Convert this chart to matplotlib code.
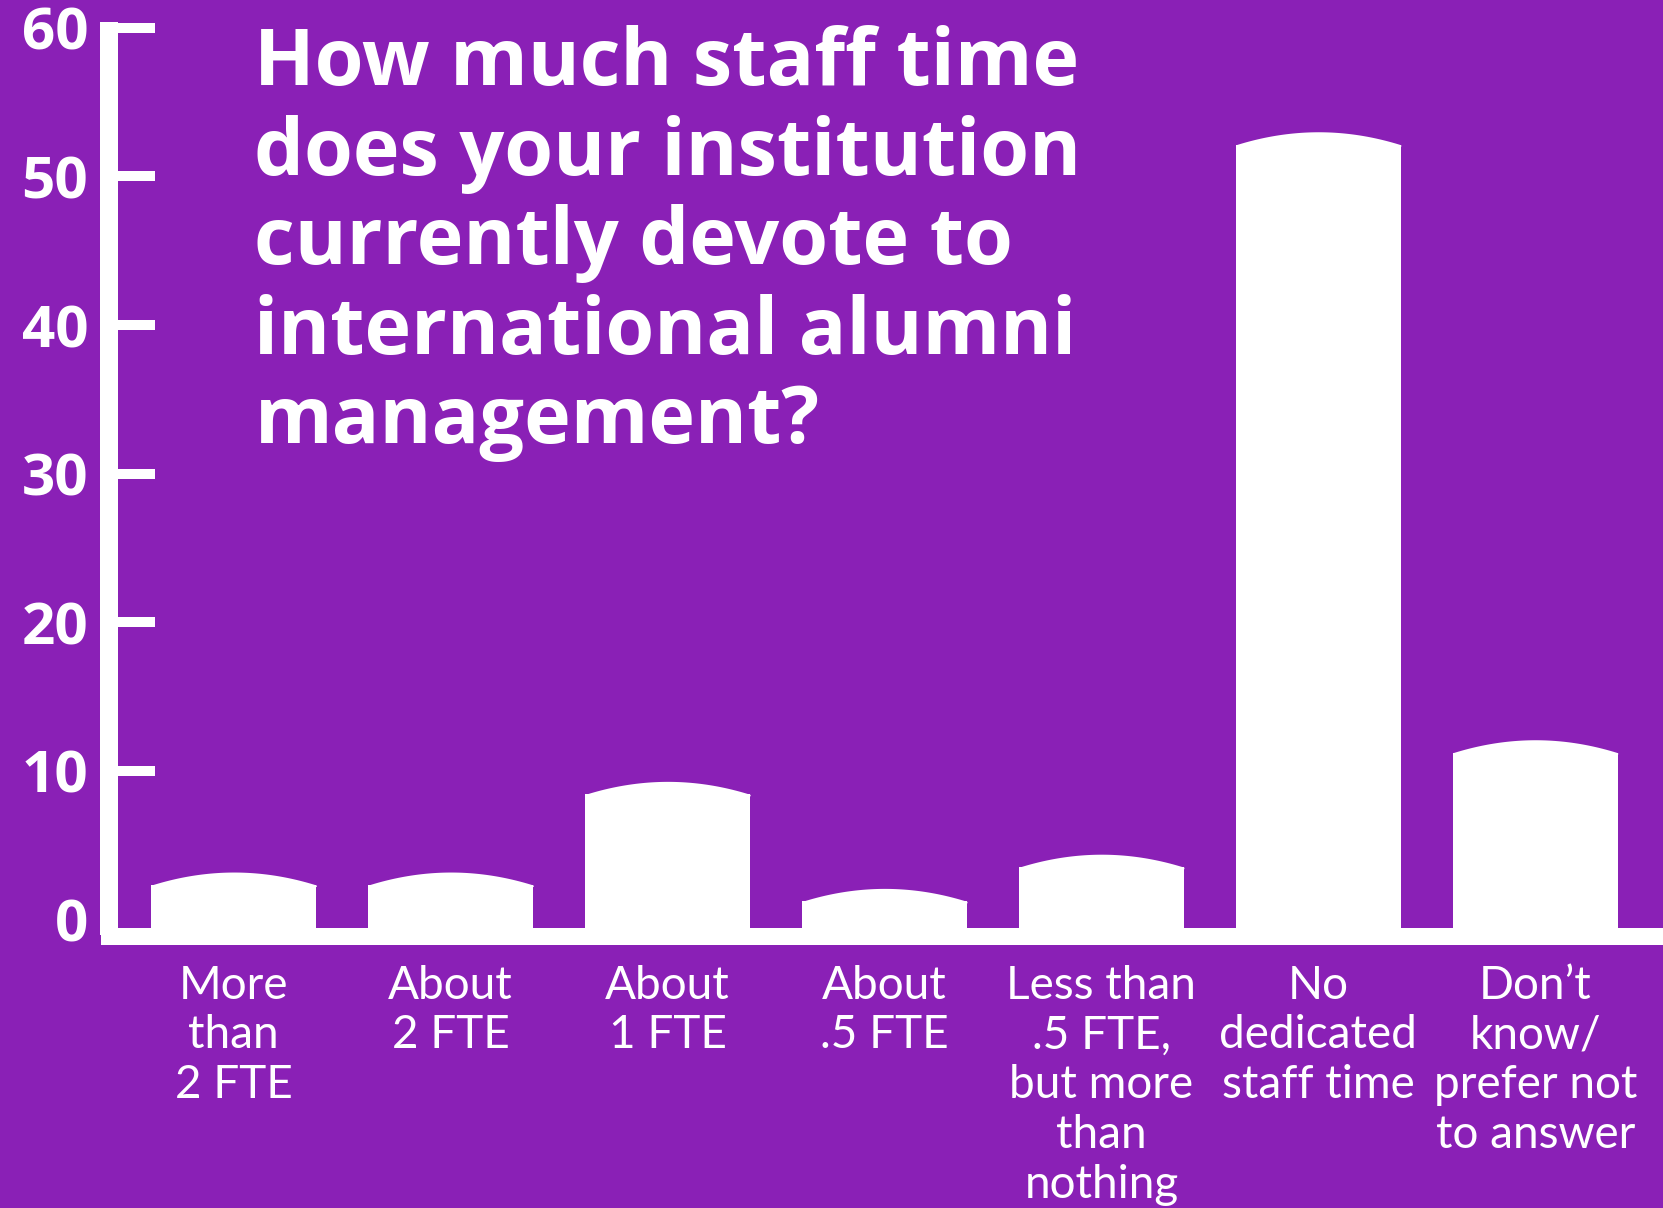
import numpy as np
import matplotlib
matplotlib.use('Agg')
import matplotlib.pyplot as plt

categories = ["More\nthan\n2 FTE", "About\n2 FTE", "About\n1 FTE", "About\n.5 FTE",
              "Less than\n.5 FTE,\nbut more\nthan\nnothing", "No\ndedicated\nstaff time",
              "Don\u2019t\nknow/\nprefer not\nto answer"]
values = [3.2, 3.2, 9.3, 2.1, 4.4, 53.0, 12.1]
yticks = [0, 10, 20, 30, 40, 50, 60]
title_lines = ["How much staff time", "does your institution", "currently devote to",
               "international alumni", "management?"]

BG = '#8A20B6'
FONT = ['Lato', 'DejaVu Sans']
BOLDFONT = ['Open Sans', 'DejaVu Sans']
plt.rcParams['font.family'] = FONT

W, H = 1663, 1208
fig = plt.figure(figsize=(W / 100, H / 100), dpi=100, facecolor=BG)
ax = fig.add_axes([109 / W, 1 - 935.5 / H, 1 - 109 / W, (935.5 - 22) / H])
ax.set_facecolor(BG)

ppu = (919.6 - 27.7) / 60
ybot = -(935.5 - 919.6) / ppu
ytop = 60 + (27.7 - 22) / ppu
ax.set_ylim(ybot, ytop)
spacing = 216.9
xl = -(233.8 - 109) / spacing
ax.set_xlim(xl, xl + (W - 109) / spacing)

x = np.arange(len(values))
bw = 165 / spacing
cap = 13 / ppu
tops = np.array(values)
ax.bar(x, tops - cap - ybot, bottom=ybot, width=bw, color='white', linewidth=0, zorder=2)
t = np.linspace(-1, 1, 201)
for xi, v in zip(x, tops):
    ax.fill_between(xi + t * bw / 2, v - cap - 0.1, v - cap * t ** 2,
                    color='white', linewidth=0, zorder=2)

for s in ['top', 'right']:
    ax.spines[s].set_visible(False)
ax.spines['left'].set_color('white')
ax.spines['left'].set_linewidth(18 * 0.72)
ax.spines['left'].set_capstyle('butt')
ax.spines['bottom'].set_color('white')
ax.spines['bottom'].set_linewidth(17 * 0.72)
ax.spines['bottom'].set_capstyle('projecting')
ax.spines['bottom'].set_zorder(3)

ax.set_yticks(yticks)
ax.set_yticklabels([str(v) for v in yticks])
ax.tick_params(axis='y', direction='in', length=33, width=7.2, color='white',
               labelcolor='white', labelsize=42, pad=15)
for lab in ax.get_yticklabels():
    lab.set_fontweight('bold')
    lab.set_fontfamily(BOLDFONT)
ax.yaxis.get_major_ticks()[0].tick1line.set_visible(False)

ax.set_xticks(x)
ax.set_xticklabels(categories)
ax.tick_params(axis='x', length=0, labelcolor='white', labelsize=33, pad=21)
for lab in ax.get_xticklabels():
    lab.set_linespacing(1.23)

for i, line in enumerate(title_lines):
    fig.text(254.5 / W, 1 - (85 + i * 89.6) / H, line, fontsize=57, fontweight='bold',
             family=BOLDFONT, color='white', va='baseline', ha='left')

fig.savefig('out.png', dpi=100, facecolor=BG)
